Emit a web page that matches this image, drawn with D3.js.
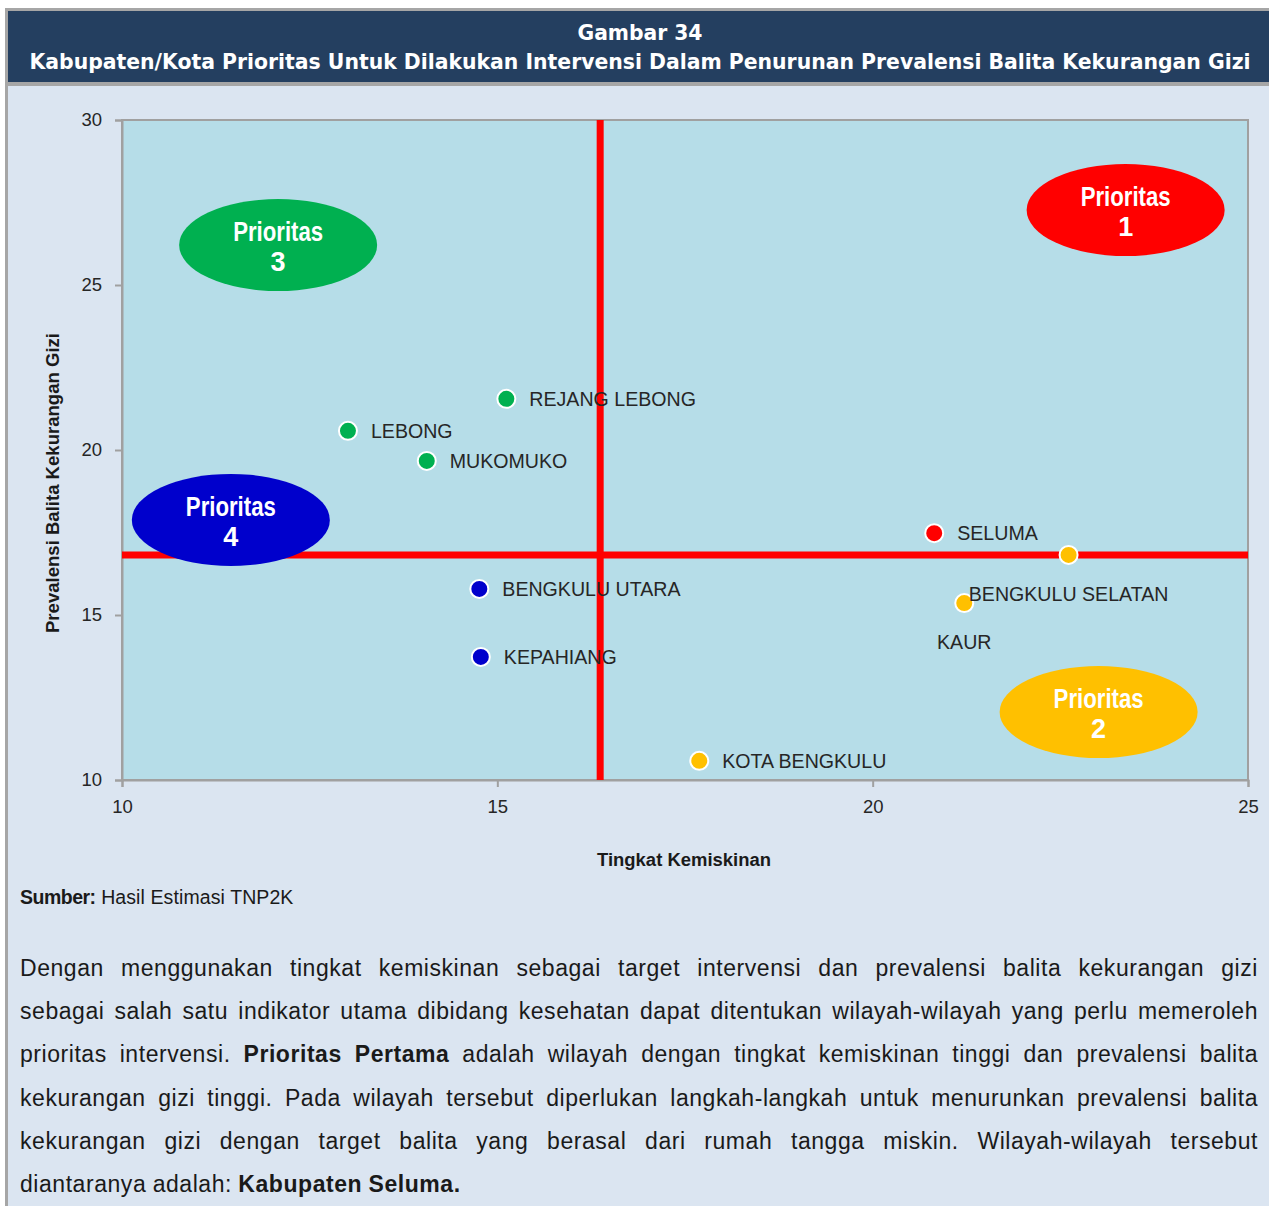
<!DOCTYPE html>
<html>
<head>
<meta charset="utf-8">
<script src="https://cdn.jsdelivr.net/npm/d3@7"></script>
<style>
  body { margin: 0; background: #fff; }
  svg { display: block; }
</style>
</head>
<body>
<div id="chart"></div>
<script>
// data
const districts = ["REJANG LEBONG", "LEBONG", "MUKOMUKO", "BENGKULU UTARA", "KEPAHIANG",
                   "SELUMA", "BENGKULU SELATAN", "KAUR", "KOTA BENGKULU"];
const poverty    = [15.12, 13.01, 14.06, 14.76, 14.78, 20.82, 22.61, 21.22, 17.69];
const prevalence = [21.55, 20.58, 19.67, 15.79, 13.73, 17.48, 16.82, 15.36, 10.58];
const priority   = [3, 3, 3, 4, 4, 1, 2, 2, 2];

const povertyCut = 16.37;     // vertical red line
const prevalenceCut = 16.82;  // horizontal red line

const xTicks = [10, 15, 20, 25];
const yTicks = [10, 15, 20, 25, 30];

// quadrant bubbles, centres in data units
const quadNames = ["1", "2", "3", "4"];
const quadX = [23.37, 23.01, 12.08, 11.45];
const quadY = [27.27, 12.06, 26.21, 17.88];

const priorityColor = {1: "#ff0000", 2: "#ffc000", 3: "#00b050", 4: "#0000cc"};
const labelBelow = ["BENGKULU SELATAN", "KAUR"];

const paragraph = [
  [["Dengan menggunakan tingkat kemiskinan sebagai target intervensi dan prevalensi balita kekurangan gizi", false]],
  [["sebagai salah satu indikator utama dibidang kesehatan dapat ditentukan wilayah-wilayah yang perlu memeroleh", false]],
  [["prioritas intervensi.", false], ["Prioritas Pertama", true], ["adalah wilayah dengan tingkat kemiskinan tinggi dan prevalensi balita", false]],
  [["kekurangan gizi tinggi. Pada wilayah tersebut diperlukan langkah-langkah untuk menurunkan prevalensi balita", false]],
  [["kekurangan gizi dengan target balita yang berasal dari rumah tangga miskin. Wilayah-wilayah tersebut", false]],
  [["diantaranya adalah:", false], ["Kabupaten Seluma.", true]]
];

const W = 1269, H = 1206;
const font = "'Liberation Sans', Arial, sans-serif";

const svg = d3.select("#chart").append("svg")
    .attr("width", W)
    .attr("height", H);

// page frame
svg.append("rect").attr("width", W).attr("height", H).attr("fill", "#fff");
svg.append("rect").attr("x", 5).attr("y", 8).attr("width", W - 5).attr("height", H - 8).attr("fill", "#a6a6a6");
svg.append("rect").attr("x", 8).attr("y", 86).attr("width", W - 8).attr("height", H - 86).attr("fill", "#dbe5f1");
svg.append("rect").attr("x", 8).attr("y", 11).attr("width", W - 8).attr("height", 71).attr("fill", "#243f60");

const titleFont = "'DejaVu Sans Condensed', 'DejaVu Sans', sans-serif";
svg.append("text")
    .attr("x", 640).attr("y", 40)
    .attr("text-anchor", "middle")
    .attr("fill", "#fff")
    .style("font-family", titleFont)
    .style("font-stretch", "condensed")
    .style("font-size", "21px")
    .style("font-weight", "bold")
    .attr("textLength", 125).attr("lengthAdjust", "spacingAndGlyphs")
    .text("Gambar 34");
svg.append("text")
    .attr("x", 640).attr("y", 69)
    .attr("text-anchor", "middle")
    .attr("fill", "#fff")
    .style("font-family", titleFont)
    .style("font-stretch", "condensed")
    .style("font-size", "21px")
    .style("font-weight", "bold")
    .attr("textLength", 1221).attr("lengthAdjust", "spacingAndGlyphs")
    .text("Kabupaten/Kota Prioritas Untuk Dilakukan Intervensi Dalam Penurunan Prevalensi Balita Kekurangan Gizi");

// scales
const x = d3.scaleLinear().domain([10, 25]).range([122, 1248]);
const y = d3.scaleLinear().domain([10, 30]).range([780, 120]);

const plot = svg.append("g");

plot.append("rect")
    .attr("x", x(10)).attr("y", y(30))
    .attr("width", x(25) - x(10)).attr("height", y(10) - y(30))
    .attr("fill", "#b6dde8")
    .attr("stroke", "#a0a0a0")
    .attr("stroke-width", 2);

const xAxis = plot.append("g")
    .attr("transform", `translate(0,${y(10)})`)
    .call(d3.axisBottom(x).tickValues(xTicks).tickSize(7).tickPadding(13).tickFormat(d3.format("d")));
const yAxis = plot.append("g")
    .attr("transform", `translate(${x(10)},0)`)
    .call(d3.axisLeft(y).tickValues(yTicks).tickSize(7).tickPadding(13).tickFormat(d3.format("d")));

[xAxis, yAxis].forEach(a => {
  a.select(".domain").attr("stroke", "#a0a0a0").attr("stroke-width", 2);
  a.selectAll(".tick line").attr("stroke", "#a0a0a0").attr("stroke-width", 2);
  a.selectAll(".tick text")
      .attr("fill", "#262626")
      .style("font-family", font)
      .style("font-size", "18.5px");
});

// threshold lines
plot.append("line")
    .attr("x1", x(povertyCut)).attr("x2", x(povertyCut))
    .attr("y1", y(30)).attr("y2", y(10))
    .attr("stroke", "#ff0000").attr("stroke-width", 7);
plot.append("line")
    .attr("x1", x(10)).attr("x2", x(25))
    .attr("y1", y(prevalenceCut)).attr("y2", y(prevalenceCut))
    .attr("stroke", "#ff0000").attr("stroke-width", 7);

// priority bubbles
const quads = quadNames.map((n, i) => ({name: n, x: quadX[i], y: quadY[i]}));
const bubble = plot.selectAll(".bubble")
    .data(quads)
    .enter()
    .append("g")
    .attr("class", "bubble")
    .attr("transform", d => `translate(${x(d.x)},${y(d.y)})`);
bubble.append("ellipse")
    .attr("rx", 99).attr("ry", 46)
    .attr("fill", d => priorityColor[d.name]);
bubble.append("text")
    .attr("y", -4)
    .attr("text-anchor", "middle")
    .attr("fill", "#fff")
    .style("font-family", "'Liberation Sans Narrow', 'Arial Narrow', 'Liberation Sans', sans-serif")
    .style("font-weight", "bold")
    .style("font-size", "27px")
    .attr("textLength", 90).attr("lengthAdjust", "spacingAndGlyphs")
    .text("Prioritas");
bubble.append("text")
    .attr("y", 26)
    .attr("text-anchor", "middle")
    .attr("fill", "#fff")
    .style("font-family", "'Liberation Sans Narrow', 'Arial Narrow', 'Liberation Sans', sans-serif")
    .style("font-weight", "bold")
    .style("font-size", "27px")
    .text(d => d.name);

// points
const points = districts.map((name, i) => ({name, px: poverty[i], pv: prevalence[i], p: priority[i]}));

plot.selectAll(".dot")
    .data(points)
    .enter()
    .append("circle")
    .attr("class", "dot")
    .attr("cx", d => x(d.px))
    .attr("cy", d => y(d.pv))
    .attr("r", 9)
    .attr("fill", d => priorityColor[d.p])
    .attr("stroke", "#fff")
    .attr("stroke-width", 2);

plot.selectAll(".lbl")
    .data(points)
    .enter()
    .append("text")
    .attr("class", "lbl")
    .attr("x", d => labelBelow.includes(d.name) ? x(d.px) : x(d.px) + 23)
    .attr("y", d => labelBelow.includes(d.name) ? y(d.pv) + 39 : y(d.pv))
    .attr("dy", "0.35em")
    .attr("text-anchor", d => labelBelow.includes(d.name) ? "middle" : "start")
    .attr("fill", "#262626")
    .style("font-family", font)
    .style("font-size", "19.6px")
    .text(d => d.name);

// axis titles
svg.append("text")
    .attr("x", 684).attr("y", 866)
    .attr("text-anchor", "middle")
    .attr("fill", "#1a1a1a")
    .style("font-family", font)
    .style("font-size", "18px")
    .style("font-weight", "bold")
    .attr("textLength", 174).attr("lengthAdjust", "spacingAndGlyphs")
    .text("Tingkat Kemiskinan");
svg.append("text")
    .attr("transform", "translate(59,483) rotate(-90)")
    .attr("text-anchor", "middle")
    .attr("fill", "#1a1a1a")
    .style("font-family", font)
    .style("font-size", "18px")
    .style("font-weight", "bold")
    .attr("textLength", 300).attr("lengthAdjust", "spacingAndGlyphs")
    .text("Prevalensi Balita Kekurangan Gizi");

// source
const src = svg.append("text")
    .attr("x", 20).attr("y", 904)
    .attr("fill", "#1a1a1a")
    .style("font-family", font)
    .style("font-size", "19.5px");
src.append("tspan").style("font-weight", "bold").attr("letter-spacing", "-0.5").text("Sumber:");
src.append("tspan").attr("letter-spacing", "0.1").text(" Hasil Estimasi TNP2K");

// justified paragraph, laid out word by word
const left = 20, right = 1258, base0 = 976, lead = 43.2;
const para = svg.append("g")
    .style("font-family", font)
    .style("font-size", "23px")
    .style("letter-spacing", "0.55px")
    .attr("fill", "#1a1a1a");

paragraph.forEach((line, li) => {
  const words = [];
  line.forEach(([txt, bold]) => txt.split(" ").forEach(w => words.push({w, bold})));
  const nodes = words.map(d => para.append("text")
      .attr("y", base0 + li * lead)
      .style("font-weight", d.bold ? "bold" : "normal")
      .text(d.w));
  const widths = nodes.map(n => n.node().getComputedTextLength());
  const total = d3.sum(widths);
  const last = li === paragraph.length - 1;
  const gap = last ? 6.4 : (right - left - total) / (words.length - 1);
  let cx = left;
  nodes.forEach((n, i) => { n.attr("x", cx); cx += widths[i] + gap; });
});
</script>
</body>
</html>
